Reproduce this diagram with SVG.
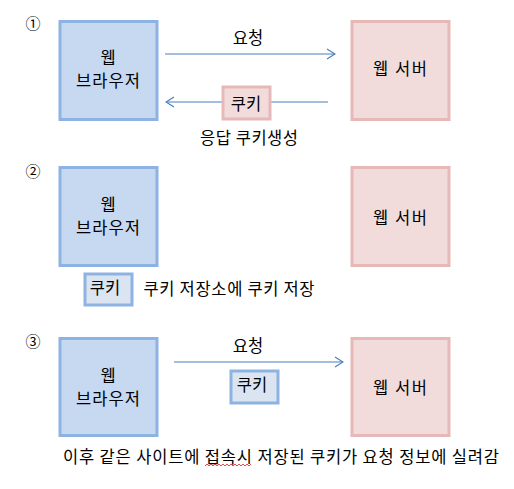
<svg xmlns="http://www.w3.org/2000/svg" width="514" height="489" viewBox="0 0 514 489">
<style>
text{font-family:"Noto Sans CJK KR","Noto Sans",sans-serif;font-size:16.5px;fill:#000;text-anchor:middle}
.num{font-size:15px}
.br{fill:#c6d9f1;stroke:#8db3e2;stroke-width:3}
.sv{fill:#f2dcdb;stroke:#e6b9b8;stroke-width:3}
.ckp{fill:#f2dcdb;stroke:#e6b9b8;stroke-width:3}
.ckb{fill:#dbe5f1;stroke:#8db3e2;stroke-width:3}
.ln{stroke:#4a7ebb;stroke-width:1.2;fill:none}
</style>
<defs>
<marker id="ah" viewBox="0 0 10 12" refX="9" refY="6" markerWidth="10" markerHeight="12" markerUnits="userSpaceOnUse" orient="auto">
<path d="M1,1 L9,6 L1,11" fill="none" stroke="#4a7ebb" stroke-width="1.2"/>
</marker>
</defs>
<text class="num" x="33" y="29">①</text>
<text class="num" x="33" y="177">②</text>
<text class="num" x="33" y="347">③</text>

<g id="browser1"><rect class="br" x="60" y="21.5" width="97" height="98"/><text x="108" y="64">웹</text><text x="108" y="87" textLength="64">브라우저</text></g>
<g id="server1"><rect class="sv" x="352" y="21.5" width="97" height="98"/><text x="400" y="75" textLength="54">웹 서버</text></g>
<g id="browser2"><rect class="br" x="60" y="167.5" width="97" height="98"/><text x="108" y="211">웹</text><text x="108" y="234" textLength="64">브라우저</text></g>
<g id="server2"><rect class="sv" x="352" y="167.5" width="97" height="98"/><text x="400" y="224" textLength="54">웹 서버</text></g>
<g id="browser3"><rect class="br" x="60" y="338.5" width="97" height="97"/><text x="108" y="382">웹</text><text x="108" y="405" textLength="64">브라우저</text></g>
<g id="server3"><rect class="sv" x="352" y="338.5" width="97" height="97"/><text x="400" y="394" textLength="54">웹 서버</text></g>

<g id="connectors">
<line class="ln" x1="165" y1="54" x2="335" y2="54" marker-end="url(#ah)"/>
<line class="ln" x1="328" y1="102" x2="166" y2="102" marker-end="url(#ah)"/>
<line class="ln" x1="174" y1="362" x2="343" y2="362" marker-end="url(#ah)"/>
</g>

<text x="248" y="44">요청</text>
<g id="cookie1"><rect class="ckp" x="223" y="87" width="47" height="32"/><text x="246" y="110">쿠키</text></g>
<text x="249" y="144" textLength="98">응답 쿠키생성</text>

<g id="cookie2"><rect class="ckb" x="85" y="274" width="47" height="31"/><text x="105" y="294">쿠키</text></g>
<text x="229" y="295" textLength="171">쿠키 저장소에 쿠키 저장</text>

<text x="248" y="352">요청</text>
<g id="cookie3"><rect class="ckb" x="231" y="371" width="47" height="32"/><text x="252" y="391">쿠키</text></g>
<text x="281" y="463" textLength="436">이후 같은 사이트에 접속시 저장된 쿠키가 요청 정보에 실려감</text>
<path d="M205,466 l2,-2 l2,2 l2,-2 l2,2 l2,-2 l2,2 l2,-2 l2,2 l2,-2 l2,2 l2,-2 l2,2 l2,-2 l2,2 l2,-2 l2,2 l2,-2 l2,2 l2,-2 l2,2 l2,-2 l2,2 l2,-2" fill="none" stroke="#e02020" stroke-width="0.8"/>
</svg>
